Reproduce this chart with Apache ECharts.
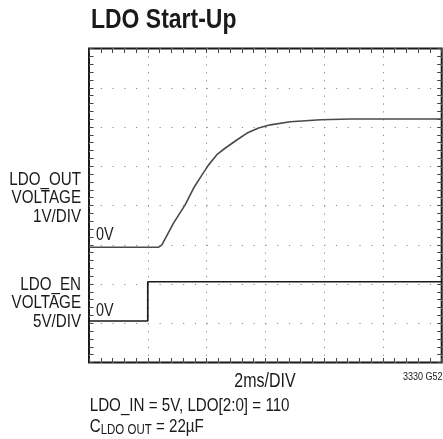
<!DOCTYPE html>
<html>
<head>
<meta charset="utf-8">
<script src="https://cdn.jsdelivr.net/npm/echarts@6/dist/echarts.min.js"></script>
<style>
  html, body { margin: 0; padding: 0; background: #fff; }
  #chart { width: 443px; height: 439px; }
</style>
</head>
<body>
<div id="chart"></div>
<script>
// Scope capture: LDO output and enable voltages during start-up
const timeDivisions = [0, 2, 4, 6, 8, 10, 12];      // ms, 2ms/DIV
const outTimeMs = [0, 2.36, 2.48, 2.87, 3.27, 3.56, 3.84, 4.07, 4.35, 4.64, 5.04, 5.38, 5.77, 6.17, 6.85, 7.88, 8.90, 12];
const outVolts  = [0, 0, 0.06, 0.61, 1.08, 1.51, 1.84, 2.10, 2.36, 2.53, 2.74, 2.91, 3.04, 3.12, 3.20, 3.25, 3.27, 3.27];
const enTimeMs = [0, 2.0, 2.0, 12];
const enVolts  = [0, 0, 5, 5];

// Vertical placement of each trace on the 8-division screen
const outVoltsPerDiv = 1, outZeroDiv = 2.935;
const enVoltsPerDiv = 5, enZeroDiv = 1.057;
const screenDivs = 8;

const FONT = "'Liberation Sans', Arial, sans-serif";
const CONDENSE = 0.82;   // horizontal squeeze for a condensed look

const gridLeft = 89, gridTop = 48.5, gridW = 352.7, gridH = 314;
const dotH = gridW / 30;   // minor spacing along horizontal lines
const dotV = gridH / 40;   // minor spacing along vertical lines

const chart = echarts.init(document.getElementById('chart'), null, { renderer: 'canvas' });

const measureCtx = document.createElement('canvas').getContext('2d');
function textWidth(str, size, weight) {
  measureCtx.font = (weight || 'normal') + ' ' + size + 'px ' + FONT;
  return measureCtx.measureText(str).width * CONDENSE;
}

// Border tick marks: an extra axis per edge with ticks at the minor spacing
function tickAxis(position, max, step) {
  return {
    type: 'value', min: 0, max: max, interval: step, position: position,
    axisLine: { show: false, onZero: false },
    axisLabel: { show: false },
    splitLine: { show: false },
    axisTick: { show: true, inside: true, length: 4.5, lineStyle: { color: '#444', width: 1 } }
  };
}

const label = (x, y, text, size, align, weight) => ({
  type: 'text', x: x, y: y, scaleX: CONDENSE, silent: true,
  style: {
    x: 0, y: 0, text: text, fill: '#1a1a1a',
    font: (weight || 'normal') + ' ' + size + 'px ' + FONT,
    align: align || 'left', verticalAlign: 'middle'
  }
});

const cX = 89.7;
const cW = textWidth('C', 18.5);
const subW = textWidth('LDO OUT', 14);

chart.setOption({
  animation: false,
  backgroundColor: '#fff',
  grid: {
    left: gridLeft, top: gridTop, width: gridW, height: gridH,
    show: true, borderColor: '#1a1a1a', borderWidth: 2, backgroundColor: 'transparent'
  },
  xAxis: [
    {
      type: 'value', min: timeDivisions[0], max: timeDivisions[timeDivisions.length - 1], interval: 2,
      position: 'bottom',
      axisLine: { show: false, onZero: false }, axisTick: { show: false }, axisLabel: { show: false },
      splitLine: { show: true, lineStyle: { color: '#8a8a8a', width: 1, type: [1.2, dotV - 1.2] } }
    },
    tickAxis('bottom', 12, 0.4),
    tickAxis('top', 12, 0.4)
  ],
  yAxis: [
    {
      type: 'value', min: 0, max: screenDivs, interval: 1, position: 'left',
      axisLine: { show: false, onZero: false }, axisTick: { show: false }, axisLabel: { show: false },
      splitLine: { show: true, lineStyle: { color: '#8a8a8a', width: 1, type: [1.2, dotH - 1.2] } }
    },
    tickAxis('left', screenDivs, 0.2),
    tickAxis('right', screenDivs, 0.2),
    {
      type: 'value', show: false, splitLine: { show: false }, axisLine: { onZero: false },
      min: -outZeroDiv * outVoltsPerDiv, max: (screenDivs - outZeroDiv) * outVoltsPerDiv
    },
    {
      type: 'value', show: false, splitLine: { show: false }, axisLine: { onZero: false },
      min: -enZeroDiv * enVoltsPerDiv, max: (screenDivs - enZeroDiv) * enVoltsPerDiv
    }
  ],
  series: [
    {
      name: 'LDO_OUT', type: 'line', xAxisIndex: 0, yAxisIndex: 3,
      showSymbol: false, symbol: 'none',
      data: outTimeMs.map((t, i) => [t, outVolts[i]]),
      lineStyle: { color: '#4a4a4a', width: 1.6 }
    },
    {
      name: 'LDO_EN', type: 'line', xAxisIndex: 0, yAxisIndex: 4,
      showSymbol: false, symbol: 'none',
      data: enTimeMs.map((t, i) => [t, enVolts[i]]),
      lineStyle: { color: '#1a1a1a', width: 1.7 }
    }
  ],
  graphic: [
    label(91, 20, 'LDO Start-Up', 28, 'left', 'bold'),
    label(81, 180, 'LDO_OUT', 18.5, 'right'),
    label(81, 198.3, 'VOLTAGE', 18.5, 'right'),
    label(81, 216.6, '1V/DIV', 18.5, 'right'),
    label(81, 285, 'LDO_EN', 18.5, 'right'),
    label(81, 303.3, 'VOLTAGE', 18.5, 'right'),
    label(81, 321.6, '5V/DIV', 18.5, 'right'),
    label(96, 235, '0V', 17.5, 'left'),
    label(96, 311, '0V', 17.5, 'left'),
    label(265, 382, '2ms/DIV', 19.5, 'center'),
    label(442.5, 376.5, '3330 G52', 11, 'right'),
    label(cX, 405.5, 'LDO_IN = 5V, LDO[2:0] = 110', 18.5, 'left'),
    label(cX, 427.2, 'C', 18.5, 'left'),
    label(cX + cW, 430.5, 'LDO OUT', 14, 'left'),
    label(cX + cW + subW, 427.2, ' = 22µF', 18.5, 'left')
  ]
});
</script>
</body>
</html>
